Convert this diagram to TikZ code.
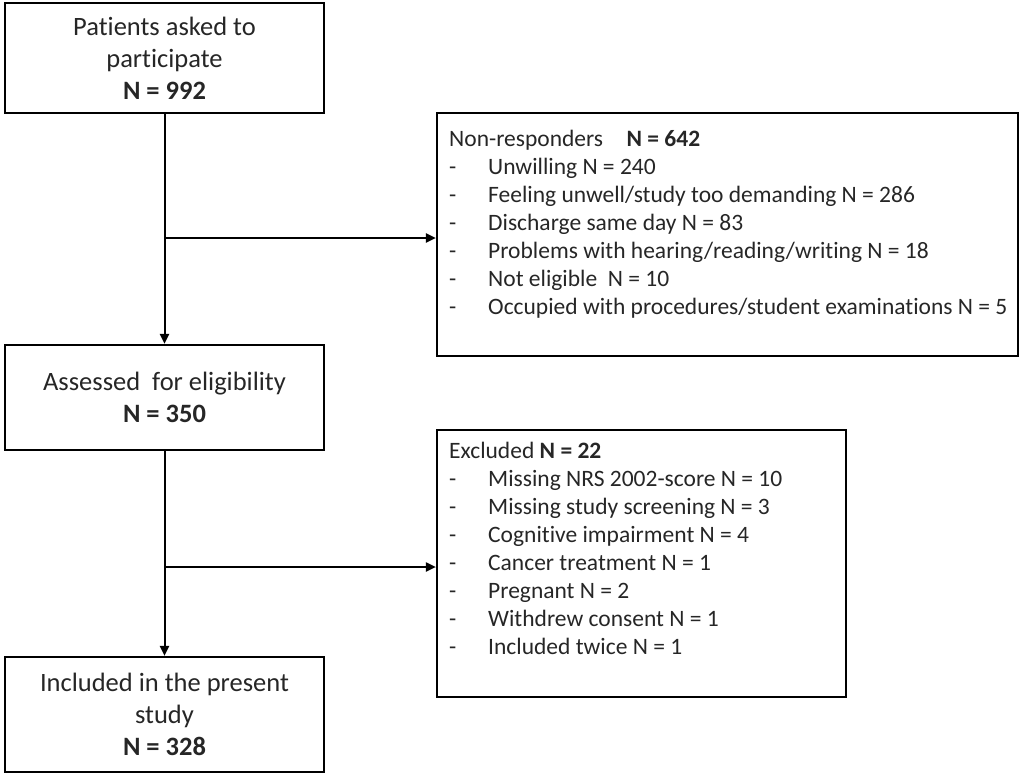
\documentclass[tikz,border=0pt]{standalone}
\usepackage{fontspec}
\setmainfont{Carlito}[Ligatures={NoCommon,NoContextual},RawFeature={-liga;-calt;-clig}]
\usetikzlibrary{arrows.meta,calc}
\definecolor{txt}{HTML}{262626}
\begin{document}
\begin{tikzpicture}[x=1pt,y=-1pt,
  box/.style={draw=black,line width=2.2pt,rectangle,inner sep=0pt,text=txt,align=center},
  main/.style={box,font=\fontsize{26.5}{32}\selectfont},
  listtxt/.style={anchor=north west,inner sep=0pt,text=txt,font=\fontsize{23.5}{28}\selectfont,align=left},
  arr/.style={line width=2pt,-{Triangle[length=10pt,width=9pt]}}]
\useasboundingbox (0,0) rectangle (1024,776);
\node[main,minimum width=319pt,minimum height=110pt] (b1) at (164.5,58) {Patients asked to\\participate\\\textbf{N = 992}};
\node[main,minimum width=319pt,minimum height=105pt] (b2) at (164.5,397.5) {Assessed\ \ for eligibility\\\textbf{N = 350}};
\node[main,minimum width=319pt,minimum height=115pt] (b3) at (164.5,714.5) {Included in the present\\study\\\textbf{N = 328}};
\node[box,minimum width=581pt,minimum height=243pt] (nr) at (727.5,234.5) {};
\node[box,minimum width=409pt,minimum height=267pt] (ex) at (641.5,563.5) {};
\node[listtxt] (nrt) at (449,127) {\begin{tabular}{@{}p{39pt}@{}l@{}}
\multicolumn{2}{@{}l}{Non-responders\quad\textbf{N = 642}}\\
-& Unwilling N = 240\\
-& Feeling unwell/study too demanding N = 286\\
-& Discharge same day N = 83\\
-& Problems with hearing/reading/writing N = 18\\
-& Not eligible\ \ N = 10\\
-& Occupied with procedures/student examinations N = 5
\end{tabular}};
\node[listtxt] (ext) at (449,439) {\begin{tabular}{@{}p{39pt}@{}l@{}}
\multicolumn{2}{@{}l}{Excluded \textbf{N = 22}}\\
-& Missing NRS 2002-score N = 10\\
-& Missing study screening N = 3\\
-& Cognitive impairment N = 4\\
-& Cancer treatment N = 1\\
-& Pregnant N = 2\\
-& Withdrew consent N = 1\\
-& Included twice N = 1
\end{tabular}};
\coordinate (j1) at (165,238);
\coordinate (j2) at (165,567);
\draw[arr] (b1.south) -- (b2.north);
\draw[arr] (b2.south) -- (b3.north);
\draw[arr] (j1) -- (j1 -| nr.west);
\draw[arr] (j2) -- (j2 -| ex.west);
\end{tikzpicture}
\end{document}
